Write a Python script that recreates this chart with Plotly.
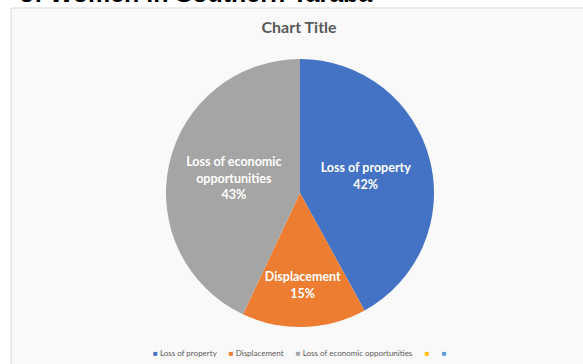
import plotly.graph_objects as go

# Slice data
categories = ["Loss of property", "Displacement", "Loss of economic opportunities"]
slice_text = ["Loss of property", "Displacement", "Loss of economic<br>opportunities"]
shares = [42, 15, 43]
colors = ["#4472C4", "#ED7D31", "#A5A5A5"]

# Extra (unlabelled) legend swatches
extra_swatches = ["#FFC000", "#5B9BD5"]

W, H = 583, 364

fig = go.Figure()

fig.add_trace(go.Pie(
    labels=categories,
    values=shares,
    text=slice_text,
    texttemplate="%{text}<br>%{percent:.0%}",
    textposition="inside",
    insidetextorientation="horizontal",
    textfont=dict(family="Lato", size=12.5, color="white", weight="bold"),
    marker=dict(colors=colors, line=dict(width=0)),
    sort=False,
    direction="clockwise",
    rotation=0,
    domain=dict(x=[(300 - 134) / W, (300 + 134) / W],
                y=[(H - 328) / H, (H - 58) / H]),
    showlegend=False,
))

# Compact legend line: small coloured squares followed by their labels
gap = "&nbsp;" * 6
items = [f"<span style='color:{c}'>■</span>&nbsp;{name}" for c, name in zip(colors, categories)]
items += [f"<span style='color:{c}'>■</span>" for c in extra_swatches]
legend_text = gap.join(items)

fig.update_layout(
    width=W, height=H,
    margin=dict(l=0, r=0, t=0, b=0),
    paper_bgcolor="white",
    title=dict(
        text="Chart Title",
        x=0.513, xanchor="center",
        y=1 - 27 / H, yanchor="middle",
        font=dict(family="Lato", size=16, color="#595959", weight="bold"),
    ),
    shapes=[dict(
        type="rect", xref="paper", yref="paper",
        x0=11 / W, x1=1.05, y0=-0.05, y1=1 - 8 / H,
        fillcolor="#f9f9f9",
        line=dict(color="#d9d9d9", width=1),
        layer="below",
    )],
    annotations=[
        dict(
            text="<b>of Women in Southern Taraba</b>",
            xref="paper", yref="paper",
            x=17 / W, xanchor="left",
            y=1 + 7 / H, yanchor="middle",
            showarrow=False,
            font=dict(family="Liberation Sans", size=25, color="black"),
        ),
        dict(
            text=legend_text,
            xref="paper", yref="paper",
            x=0.515, xanchor="center",
            y=1 - 353 / H, yanchor="middle",
            showarrow=False,
            font=dict(family="Lato", size=8, color="#595959"),
        ),
    ],
)

fig.write_html("out.html")
